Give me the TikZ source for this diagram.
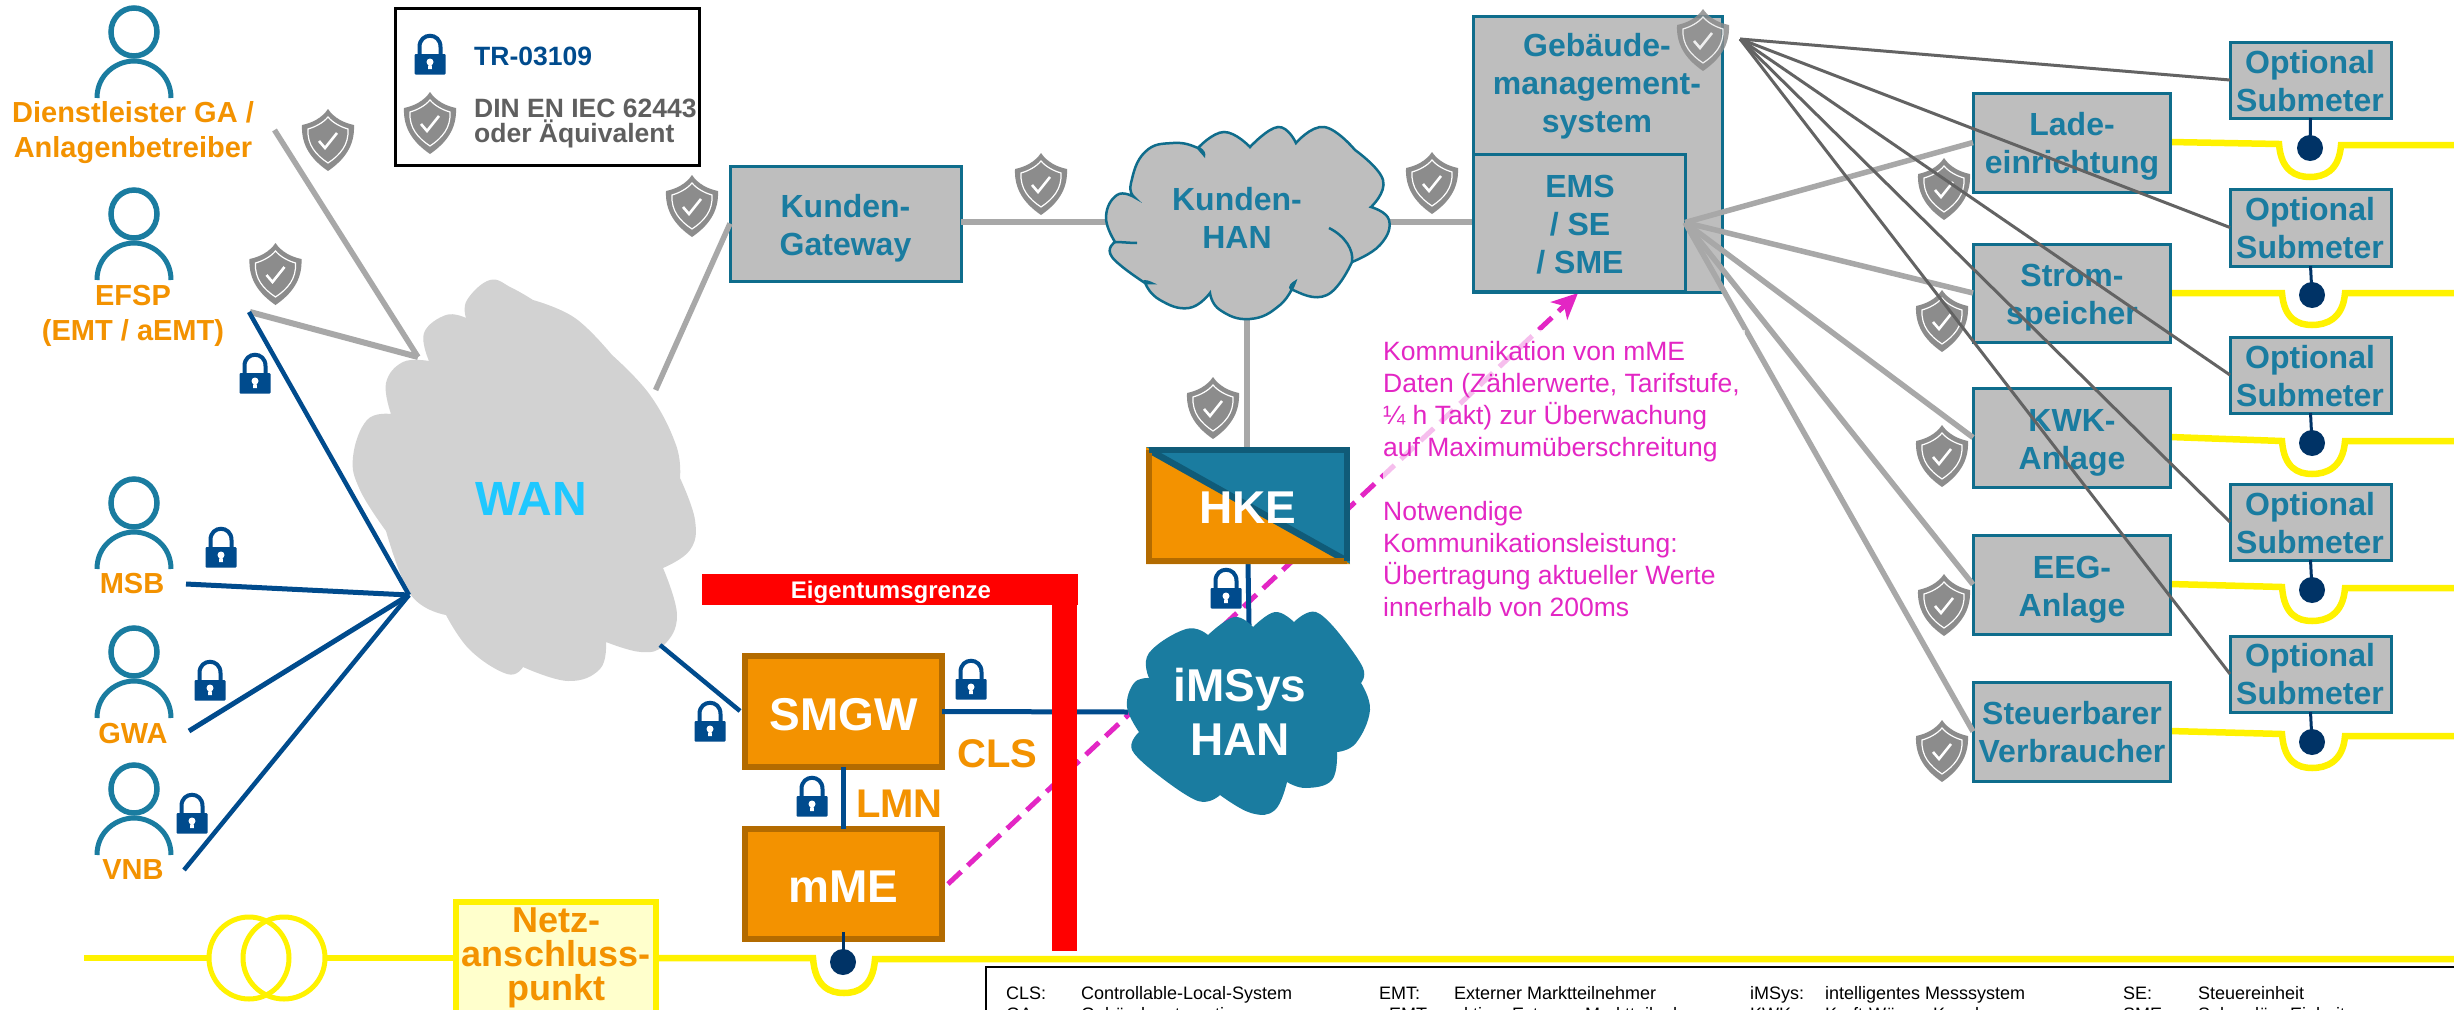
\documentclass[tikz,border=0pt]{standalone}
\usepackage{fontspec}
\setmainfont{Liberation Sans}
\usetikzlibrary{arrows.meta}
\definecolor{tealf}{HTML}{1A7CA0}
\definecolor{teals}{HTML}{0F6D8C}
\definecolor{tealdk}{HTML}{105B78}
\definecolor{boxgray}{HTML}{BEBEBE}
\definecolor{wangray}{HTML}{D2D2D2}
\definecolor{linegray}{HTML}{A8A8A8}
\definecolor{thingray}{HTML}{636363}
\definecolor{orng}{HTML}{F39200}
\definecolor{orngdk}{HTML}{B36B00}
\definecolor{blu}{HTML}{004B8D}
\definecolor{dotblu}{HTML}{003366}
\definecolor{mag}{HTML}{E326C4}
\definecolor{shieldg}{HTML}{8C8C8C}
\definecolor{txgray}{HTML}{5F5F5F}
\definecolor{netzf}{HTML}{FFFFCC}
\definecolor{wantx}{HTML}{1FC8FF}
\newcommand{\fsz}[2]{\fontsize{#1}{#2}\selectfont}
\tikzset{
  graybox/.style={draw=teals,line width=3pt,fill=boxgray,inner sep=0pt,outer sep=0pt},
  orngbox/.style={draw=orngdk,line width=6pt,fill=orng,inner sep=0pt,outer sep=0pt},
  tt/.style={inner sep=0pt,outer sep=0pt,anchor=base,align=center,text=tealf,font=\bfseries\fsz{32}{38}},
  ot/.style={inner sep=0pt,outer sep=0pt,anchor=base,align=center,text=orng,font=\bfseries\fsz{29}{35}},
  wt/.style={inner sep=0pt,outer sep=0pt,anchor=base,align=center,text=white,font=\bfseries\fsz{46}{54}},
  lg/.style={inner sep=0pt,outer sep=0pt,anchor=base west,text=black,font=\fsz{18}{18}},
  grayln/.style={draw=linegray,line width=5.5pt},
  thinln/.style={draw=thingray,line width=3pt},
  bluln/.style={draw=blu,line width=5pt},
  yel/.style={draw=yellow,line width=6.5pt},
  magln/.style={draw=mag,line width=5pt,dash pattern=on 18pt off 9pt},
}
\newcommand{\shield}[2]{%
 \begin{scope}[shift={(#1,#2)}]
  \fill[shieldg] (0,-31) .. controls (-6,-22) and (-16,-17) .. (-26,-15) .. controls (-27,6) and (-16,20) .. (0,31) .. controls (16,20) and (27,6) .. (26,-15) .. controls (16,-17) and (6,-22) .. (0,-31) -- cycle;
  \draw[white,line width=1.2pt] (0,-23) .. controls (-5,-17) and (-13,-13) .. (-20,-11) .. controls (-21,5) and (-12,15) .. (0,23) .. controls (12,15) and (21,5) .. (20,-11) .. controls (13,-13) and (5,-17) .. (0,-23) -- cycle;
  \draw[white,line width=2.6pt] (-9,1) -- (-3,8) -- (9,-7);
 \end{scope}}
\newcommand{\lock}[2]{%
 \begin{scope}[shift={(#1,#2)}]
  \draw[blu,line width=4pt] (-10.5,2) -- (-10.5,-8) .. controls (-10.5,-23) and (10.5,-23) .. (10.5,-8) -- (10.5,2);
  \fill[blu,rounded corners=1pt] (-15.5,-1) rectangle (15.5,19.5);
  \fill[white] (0,7) circle [radius=3.5pt];
  \fill[white] (-1.5,8) -- (1.5,8) -- (2,14) -- (-2,14) -- cycle;
 \end{scope}}
\newcommand{\person}[3]{% x, head centre y, feet y
 \draw[tealf,line width=5pt] (#1-37,#3) .. controls (#1-37,#2+42) and (#1-17,#2+29) .. (#1,#2+29) .. controls (#1+17,#2+29) and (#1+37,#2+42) .. (#1+37,#3);
 \draw[tealf,line width=5.5pt,fill=white] (#1,#2) ellipse [x radius=23pt,y radius=24pt];}
\newcommand{\feeder}[8]{% start x,y  left x,y  right x,y  centre x  bottom y
 \draw[yel] (#1,#2) -- (#3,#4) .. controls (#3+2,#8-6) and (#7-14,#8) .. (#7,#8) .. controls (#7+14,#8) and (#5-2,#8-6) .. (#5,#6) -- (2460,#6);}
\begin{document}
\begin{tikzpicture}[x=1pt,y=-1pt]
\useasboundingbox (0,0) rectangle (2454,1009);
\clip (0,0) rectangle (2454,1009);
\fill[white] (0,0) rectangle (2454,1009);

% named free ends
\coordinate (hub) at (409,595);
\coordinate (wanN) at (418,357);
\coordinate (wanNE) at (655.6,390);
\coordinate (wanSE) at (660,645);
\coordinate (diensten) at (274.5,130);
\coordinate (efspg) at (250,312);
\coordinate (efspb) at (249,312);
\coordinate (msbe) at (186,584);
\coordinate (gwae) at (189,731);
\coordinate (vnbe) at (184,870);
\coordinate (kwest) at (1106,222);
\coordinate (keast) at (1389,222);
\coordinate (ksouth) at (1247,319);
\coordinate (iwest) at (1128,712);
\coordinate (inorth) at (1249,625);
\coordinate (smgwnw) at (740,711);
\coordinate (msouth) at (843,932);
\coordinate (magtip) at (1578,293);
\coordinate (magstart) at (948,884);

% nodes that carry connectors
\node[graybox,minimum width=231pt,minimum height=115pt] (kgw) at (845.5,223.5) {};
\node[inner sep=0pt,outer sep=0pt,minimum width=204pt,minimum height=117pt] (hke) at (1248,505.5) {};
\node[orngbox,minimum width=197pt,minimum height=111pt] (smgw) at (843.5,711.5) {};
\node[orngbox,minimum width=197pt,minimum height=110pt] (mme) at (843.5,884) {};

% magenta behind everything
\draw[magln,-{Stealth[length=26pt,width=24pt,inset=7pt]}] (magstart) -- (magtip);

% Yellow mains
\draw[yel] (84,958) -- (207,958);
\draw[yellow,line width=5pt] (249,958) ellipse [x radius=40pt,y radius=41pt];
\draw[yellow,line width=5pt] (284,958) ellipse [x radius=41pt,y radius=41pt];
\draw[yel] (327,958) -- (455,958);
\feeder{659}{958}{813}{958}{875}{959}{844}{993}
\node[draw=yellow,line width=6pt,fill=netzf,inner sep=0pt,minimum width=200pt,minimum height=150pt] (netz) at (556,977) {};
\node[inner sep=0pt,anchor=base,align=center,text=orng,font=\bfseries\fsz{36}{34}] (netzt) at (556,1000) {Netz-\\anschluss-\\punkt};

% right feeders
\feeder{2170}{142}{2279}{144}{2341}{145}{2310}{177}
\feeder{2170}{293}{2282}{293}{2345}{293}{2312}{325}
\feeder{2170}{437}{2282}{441}{2345}{441}{2312}{474}
\feeder{2170}{584}{2282}{587}{2345}{588}{2312}{621}
\feeder{2170}{731}{2282}{734}{2345}{736}{2312}{768}

% gray connectors to the WAN
\draw[grayln] (diensten) -- (wanN);
\draw[grayln,line width=6pt] (efspg) -- (wanN);
\draw[grayln] (wanNE) -- (kgw.west);
\draw[grayln,line width=6pt] (kgw.east |- kwest) -- (kwest);
\draw[grayln,line width=6pt] (keast) -- (1473,222);
\draw[grayln] (ksouth) -- (hke.north -| ksouth);

% WAN cloud
\fill[wangray] (386,531) -- plot[smooth,tension=.7] coordinates {(386,531)(360,490)(353,457)(367,420)(391,414)}
 -- plot[smooth,tension=.7] coordinates {(391,414)(386,383)(403,362)(429,361)}
 -- plot[smooth,tension=.7] coordinates {(429,361)(424,333)(446,315)(466,318)}
 -- plot[smooth,tension=.7] coordinates {(466,318)(467,300)(490,280)(512,288)(533,300)}
 -- plot[smooth,tension=.7] coordinates {(533,300)(575,318)(612,355)}
 -- plot[smooth,tension=.7] coordinates {(612,355)(650,395)(676,445)(680,478)}
 -- plot[smooth,tension=.7] coordinates {(680,478)(695,520)(690,550)(663,568)}
 -- plot[smooth,tension=.7] coordinates {(663,568)(677,615)(664,645)(641,652)(606,642)}
 -- plot[smooth,tension=.7] coordinates {(606,642)(600,669)(568,681)(523,667)}
 -- plot[smooth,tension=.7] coordinates {(523,667)(507,674)(470,650)(446,615)}
 -- plot[smooth,tension=.7] coordinates {(446,615)(411,595)(386,531)} -- cycle;
\node[inner sep=0pt,anchor=base,text=wantx,font=\bfseries\fsz{48}{48}] (want) at (531,515) {WAN};

% blue connectors
\draw[bluln,line width=4.5pt] (efspb) -- (hub);
\draw[bluln] (msbe) -- (hub);
\draw[bluln] (gwae) -- (hub);
\draw[bluln,line width=4.5pt] (vnbe) -- (hub);
\draw[bluln,line width=4.5pt] (wanSE) -- (smgwnw);
\draw[bluln] (smgw.east) -- (iwest);
\draw[bluln] (smgw.south) -- (mme.north);
\draw[bluln] (hke.south) -- (inorth);

% Kunden-HAN cloud
\filldraw[draw=teals,line width=2.5pt,fill=boxgray] (1134,197) -- plot[smooth,tension=.8] coordinates {(1134,197)(1131,183)(1145,152)(1173,143)(1198,148)(1204,155)}
 -- plot[smooth,tension=.8] coordinates {(1198,148)(1224,132)(1250,147)}
 -- plot[smooth,tension=.8] coordinates {(1250,147)(1278,127)(1296,143)}
 -- plot[smooth,tension=.8] coordinates {(1296,143)(1324,127)(1355,150)}
 -- plot[smooth,tension=.8] coordinates {(1355,150)(1383,180)(1371,207)}
 -- plot[smooth,tension=.8] coordinates {(1371,207)(1389,220)(1380,245)(1352,262)}
 -- plot[smooth,tension=.8] coordinates {(1352,262)(1327,295)(1293,290)(1295,282)}
 -- plot[smooth,tension=.8] coordinates {(1295,282)(1280,305)(1250,319)(1220,310)(1210,293)}
 -- plot[smooth,tension=.8] coordinates {(1210,293)(1189,308)(1160,300)(1145,283)(1151,283)}
 -- plot[smooth,tension=.8] coordinates {(1145,283)(1112,257)(1115,242)}
 -- plot[smooth,tension=.8] coordinates {(1115,242)(1106,217)(1117,195)(1134,197)} -- cycle;
\draw[teals,line width=2.5pt] (1329,228) .. controls (1345,236) and (1354,250) .. (1352,262);
\draw[teals,line width=2.5pt] (1115,242) .. controls (1122,242) and (1130,243) .. (1137,243);
\node[tt] (khant) at (1237,248) {Kunden-\\HAN};

% iMSys cloud
\fill[tealf] (1149,678) -- plot[smooth,tension=.7] coordinates {(1149,678)(1149,653)(1186,629)(1208,635)}
 -- plot[smooth,tension=.7] coordinates {(1208,635)(1234,617)(1253,627)}
 -- plot[smooth,tension=.7] coordinates {(1253,627)(1275,612)(1294,622)}
 -- plot[smooth,tension=.7] coordinates {(1294,622)(1316,612)(1342,637)}
 -- plot[smooth,tension=.7] coordinates {(1342,637)(1363,668)(1361,683)}
 -- plot[smooth,tension=.7] coordinates {(1361,683)(1370,710)(1356,743)(1337,752)}
 -- plot[smooth,tension=.7] coordinates {(1337,752)(1332,780)(1306,788)(1287,782)}
 -- plot[smooth,tension=.7] coordinates {(1287,782)(1275,810)(1251,813)(1220,795)}
 -- plot[smooth,tension=.7] coordinates {(1220,795)(1198,801)(1158,775)}
 -- plot[smooth,tension=.7] coordinates {(1158,775)(1132,750)(1139,732)}
 -- plot[smooth,tension=.7] coordinates {(1139,732)(1127,707)(1134,683)(1149,678)} -- cycle;
\node[wt] (imsyst) at (1240,755) {iMSys\\HAN};

% HKE
\fill[tealf] (hke.north west) rectangle (hke.south east);
\fill[orng] (hke.north west) -- (hke.south west) -- (hke.south east) -- cycle;
\draw[tealdk,line width=6.5pt] (1149,450) -- (1347,561);
\draw[orngdk,line width=6pt] (1149,450) -- (1149,561) -- (1347,561);
\draw[tealdk,line width=6pt] (1149,450) -- (1347,450) -- (1347,561);
\node[wt] (hket) at (1248,523) {HKE};

% orange boxes text
\node[wt] (smgwt) at (843.5,730) {SMGW};
\node[wt] (mmet) at (843.5,902) {mME};
\node[inner sep=0pt,anchor=base west,text=orng,font=\bfseries\fsz{40}{40}] (clst) at (957,767) {CLS};
\node[inner sep=0pt,anchor=base west,text=orng,font=\bfseries\fsz{40}{40}] (lmnt) at (856,817) {LMN};

% red boundary
\fill[red] (702,574) rectangle (1078,605);
\fill[red] (1052,574) rectangle (1077,951);
\node[inner sep=0pt,anchor=base,text=white,font=\bfseries\fsz{24}{24}] (eigt) at (891,598) {Eigentumsgrenze};

% meter stem
\draw[dotblu,line width=3pt] (msouth) -- (843,962);
\fill[dotblu] (843,962) ellipse [x radius=13pt,y radius=13pt];

% gateway text
\node[tt] (kgwt) at (845.5,255) {Kunden-\\Gateway};

% Gebaeude
\node[graybox,minimum width=249pt,minimum height=276pt] (geb) at (1597.5,154) {};
\node[graybox,minimum width=212pt,minimum height=137pt] (ems) at (1579,222.5) {};
\node[tt] (gebt) at (1597,132) {Gebäude-\\management-\\system};
\node[tt] (emst) at (1580,273) {EMS\\/ SE\\/ SME};

% right boxes
\node[graybox,minimum width=197pt,minimum height=99pt] (lade) at (2071.5,142.5) {};
\node[graybox,minimum width=197pt,minimum height=98pt] (strom) at (2071.5,293) {};
\node[graybox,minimum width=197pt,minimum height=99pt] (kwk) at (2071.5,437.5) {};
\node[graybox,minimum width=197pt,minimum height=99pt] (eeg) at (2071.5,584.5) {};
\node[graybox,minimum width=197pt,minimum height=99pt] (steuer) at (2071.5,731.5) {};
\node[tt] (ladet) at (2072,173) {Lade-\\einrichtung};
\node[tt] (stromt) at (2072,324) {Strom-\\speicher};
\node[tt] (kwkt) at (2072,469) {KWK-\\Anlage};
\node[tt] (eegt) at (2072,616) {EEG-\\Anlage};
\node[tt] (steuert) at (2072,762) {Steuerbarer\\Verbraucher};

\node[graybox,minimum width=161pt,minimum height=76pt] (sub1) at (2310.5,80) {};
\node[graybox,minimum width=161pt,minimum height=77pt] (sub2) at (2310.5,227.5) {};
\node[graybox,minimum width=161pt,minimum height=76pt] (sub3) at (2310.5,375) {};
\node[graybox,minimum width=161pt,minimum height=76pt] (sub4) at (2310.5,522) {};
\node[graybox,minimum width=161pt,minimum height=76pt] (sub5) at (2310.5,674) {};
\node[tt] (sub1t) at (2310,111) {Optional\\Submeter};
\node[tt] (sub2t) at (2310,258) {Optional\\Submeter};
\node[tt] (sub3t) at (2310,406) {Optional\\Submeter};
\node[tt] (sub4t) at (2310,553) {Optional\\Submeter};
\node[tt] (sub5t) at (2310,704) {Optional\\Submeter};

% meter dots on right
\coordinate (d1) at (2310,148);
\coordinate (d2) at (2312,295);
\coordinate (d3) at (2312,443);
\coordinate (d4) at (2312,590);
\coordinate (d5) at (2312,742);
\foreach \s/\d in {sub1/d1,sub2/d2,sub3/d3,sub4/d4,sub5/d5}{
  \draw[dotblu,line width=3pt] (\s.south) -- (\d);
  \fill[dotblu] (\d) ellipse [x radius=13pt,y radius=13pt];
}

% EMS fan
\foreach \t in {lade,strom,kwk,eeg,steuer}{ \draw[grayln] (ems.east) -- (\t.west); }

% shields
\shield{328}{140}\shield{275.5}{274}\shield{692}{206}\shield{1041}{184}\shield{1432}{183}\shield{1213}{408}
\shield{1944}{189}\shield{1942}{321}\shield{1942}{456}\shield{1944}{605}\shield{1942}{751}
\begin{scope}[opacity=.85]\shield{1703}{40}\end{scope}

% locks
\lock{255}{374}\lock{221}{548}\lock{210}{681}\lock{192}{814}\lock{710}{722}\lock{971}{680}\lock{812}{797}\lock{1226}{589}

% thin fan to submeters
\coordinate (fan) at (1740,39);
\foreach \t in {sub1,sub2,sub3,sub4,sub5}{ \draw[thinln] (fan) -- (\t.west); }

% magenta annotation
\fill[white,opacity=.7] (1383,330) rectangle (1745,640);
\node[inner sep=0pt,anchor=north west,align=left,text=mag,font=\fsz{26.5}{32}] (magt) at (1383,341) {Kommunikation von mME\\Daten (Zählerwerte, Tarifstufe,\\¼ h Takt) zur Überwachung\\auf Maximumüberschreitung\\[32pt]Notwendige\\Kommunikationsleistung:\\Übertragung aktueller Werte\\innerhalb von 200ms};

% persons
\person{134}{32}{98}
\person{134}{214}{280}
\person{134}{503}{569}
\person{134}{652}{718}
\person{134}{789}{855}
\node[ot] (pa) at (133,157) {Dienstleister GA /\\Anlagenbetreiber};
\node[ot] (pb) at (133,340) {EFSP\\(EMT / aEMT)};
\node[ot] (pc) at (132,593) {MSB};
\node[ot] (pd) at (133,743) {GWA};
\node[ot] (pe) at (133,879) {VNB};

% legend top
\node[draw=black,line width=3pt,fill=white,inner sep=0pt,minimum width=304pt,minimum height=157pt] (lgbox) at (547,86.5) {};
\lock{430}{55}\shield{430}{123}
\node[inner sep=0pt,anchor=base west,text=blu,font=\bfseries\fsz{26.5}{26}] (lgta) at (474,65) {TR-03109};
\node[inner sep=0pt,anchor=base west,align=left,text=txgray,font=\bfseries\fsz{26.5}{25}] (lgtb) at (474,142) {DIN EN IEC 62443\\oder Äquivalent};

% abbreviation legend
\draw[black,line width=2.5pt] (986,1015) -- (986,967) -- (2460,967);
\node[lg] (a1) at (1006,999) {CLS:};\node[lg] (a2) at (1081,999) {Controllable-Local-System};
\node[lg] (a3) at (1379,999) {EMT:};\node[lg] (a4) at (1454,999) {Externer Marktteilnehmer};
\node[lg] (a5) at (1750,999) {iMSys:};\node[lg] (a6) at (1825,999) {intelligentes Messsystem};
\node[lg] (a7) at (2123,999) {SE:};\node[lg] (a8) at (2198,999) {Steuereinheit};
\node[lg] (b1) at (1006,1020) {GA:};\node[lg] (b2) at (1081,1020) {Gebäudeautomation};
\node[lg] (b3) at (1379,1020) {aEMT:};\node[lg] (b4) at (1454,1020) {aktiver Externer Marktteilnehmer};
\node[lg] (b5) at (1750,1020) {KWK:};\node[lg] (b6) at (1825,1020) {Kraft-Wärme-Kopplung};
\node[lg] (b7) at (2123,1020) {SME:};\node[lg] (b8) at (2198,1020) {Sekundäre Einheit};
\end{tikzpicture}
\end{document}
